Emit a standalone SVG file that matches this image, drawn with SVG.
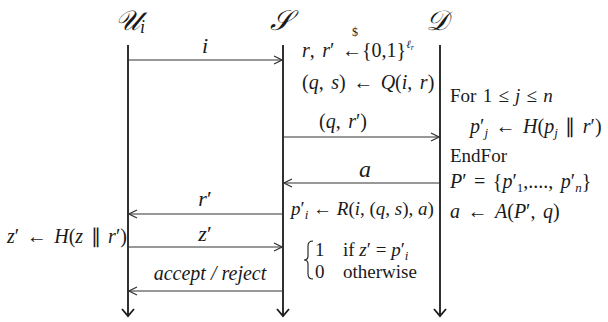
<svg xmlns="http://www.w3.org/2000/svg" width="608" height="322" viewBox="0 0 608 322">
<style>
svg text, svg tspan{font-family:"Liberation Serif",serif}
.m{font-style:italic}
.life{stroke:#1a1a1a;stroke-width:1.8;fill:none}
.msg{stroke:#333;stroke-width:1.2;fill:none;marker-end:url(#ah)}
.hdr{font-size:28px;font-style:italic}
.t{font-size:19px}
.mt{font-size:20px;word-spacing:2.5px}
.s{font-size:13px}
</style>
<defs>
<marker id="ah" markerWidth="10" markerHeight="10" refX="9" refY="5" orient="auto" markerUnits="userSpaceOnUse">
<path d="M1,1 L9,5 L1,9" fill="none" stroke="#333" stroke-width="1.2"/>
</marker>
<marker id="bh" markerWidth="14" markerHeight="14" refX="7" refY="12" orient="0" markerUnits="userSpaceOnUse">
<path d="M1,5 L7,12 L13,5" fill="none" stroke="#1a1a1a" stroke-width="1.8"/>
</marker>
</defs>
<rect width="608" height="322" fill="#fff"/>
<g id="U" fill="#1a1a1a">
<text font-family="Liberation Serif" class="hdr" x="115" y="30">𝒰<tspan font-size="18" dy="3">i</tspan></text>
<line class="life" x1="128" y1="45" x2="128" y2="316" marker-end="url(#bh)"/>
<text font-family="Liberation Serif" class="mt" x="7" y="243"><tspan class="m">z</tspan>′ ← <tspan class="m">H</tspan>(<tspan class="m">z</tspan> ∥ <tspan class="m">r</tspan>′)</text>
</g>
<g id="S" fill="#1a1a1a">
<text font-family="Liberation Serif" class="hdr" x="270" y="30">𝒮</text>
<line class="life" x1="283" y1="45" x2="283" y2="316" marker-end="url(#bh)"/>
<text font-family="Liberation Serif" class="mt" x="302" y="57"><tspan class="m">r</tspan>, <tspan class="m">r</tspan>′ ←{0,1}<tspan class="m" font-size="11" dy="-9">ℓ</tspan><tspan class="m" font-size="8" dy="2">r</tspan></text>
<text font-family="Liberation Serif" x="352" y="36" font-size="12">$</text>
<text font-family="Liberation Serif" class="mt" x="302" y="89">(<tspan class="m">q</tspan>, <tspan class="m">s</tspan>) ← <tspan class="m">Q</tspan>(<tspan class="m">i</tspan>, <tspan class="m">r</tspan>)</text>
<text font-family="Liberation Serif" class="t" x="291" y="215"><tspan class="m">p</tspan>′<tspan class="s m" dy="4">i</tspan><tspan dy="-4"> ← </tspan><tspan class="m">R</tspan>(<tspan class="m">i</tspan>, (<tspan class="m">q</tspan>, <tspan class="m">s</tspan>), <tspan class="m">a</tspan>)</text>
<path d="M313,241 Q308,241 308,246 L308,256 Q308,260 304,260 Q308,260 308,264 L308,274 Q308,279 313,279" fill="none" stroke="#1a1a1a" stroke-width="1.1"/>
<text font-family="Liberation Serif" class="t" x="315" y="256">1</text>
<text font-family="Liberation Serif" class="t" x="343" y="256">if <tspan class="m">z</tspan>′ = <tspan class="m">p</tspan>′<tspan class="s m" dy="4">i</tspan></text>
<text font-family="Liberation Serif" class="t" x="315" y="278">0</text>
<text font-family="Liberation Serif" class="t" x="343" y="278">otherwise</text>
</g>
<g id="D" fill="#1a1a1a">
<text font-family="Liberation Serif" class="hdr" x="426" y="30">𝒟</text>
<line class="life" x1="440" y1="45" x2="440" y2="316" marker-end="url(#bh)"/>
<text font-family="Liberation Serif" class="t" x="450" y="102" word-spacing="1.5">For 1 ≤ <tspan class="m">j</tspan> ≤ <tspan class="m">n</tspan></text>
<text font-family="Liberation Serif" class="mt" x="470" y="133"><tspan class="m">p</tspan>′<tspan class="s m" dy="4">j</tspan><tspan dy="-4"> ← </tspan><tspan class="m">H</tspan>(<tspan class="m">p</tspan><tspan class="s m" dy="4">j</tspan><tspan dy="-4"> ∥ </tspan><tspan class="m">r</tspan>′)</text>
<text font-family="Liberation Serif" class="t" x="450" y="162">EndFor</text>
<text font-family="Liberation Serif" class="mt" x="450" y="188"><tspan class="m">P</tspan>′ = {<tspan class="m">p</tspan>′<tspan class="s" dy="4">1</tspan><tspan dy="-4">,...., </tspan><tspan class="m">p</tspan>′<tspan class="s m" dy="4">n</tspan><tspan dy="-4">}</tspan></text>
<text font-family="Liberation Serif" class="mt" x="450" y="218"><tspan class="m">a</tspan> ← <tspan class="m">A</tspan>(<tspan class="m">P</tspan>′, <tspan class="m">q</tspan>)</text>
</g>
<g id="connectors" fill="#1a1a1a">
<line class="msg" x1="128" y1="60" x2="282" y2="60"/>
<text font-family="Liberation Serif" class="m" x="205" y="53" text-anchor="middle" font-size="22">i</text>
<line class="msg" x1="283" y1="137" x2="439" y2="137"/>
<text font-family="Liberation Serif" class="mt" x="343" y="128" text-anchor="middle">(<tspan class="m">q</tspan>, <tspan class="m">r</tspan>′)</text>
<line class="msg" x1="440" y1="183" x2="284" y2="183"/>
<text font-family="Liberation Serif" class="m" x="365" y="177" text-anchor="middle" font-size="24">a</text>
<line class="msg" x1="283" y1="214" x2="129" y2="214"/>
<text font-family="Liberation Serif" x="205" y="206" text-anchor="middle" font-size="22"><tspan class="m">r</tspan>′</text>
<line class="msg" x1="128" y1="247" x2="282" y2="247"/>
<text font-family="Liberation Serif" x="205" y="241" text-anchor="middle" font-size="22"><tspan class="m">z</tspan>′</text>
<line class="msg" x1="283" y1="291" x2="129" y2="291"/>
<text font-family="Liberation Serif" class="m" x="210" y="280" text-anchor="middle" font-size="20">accept / reject</text>
</g>
</svg>
